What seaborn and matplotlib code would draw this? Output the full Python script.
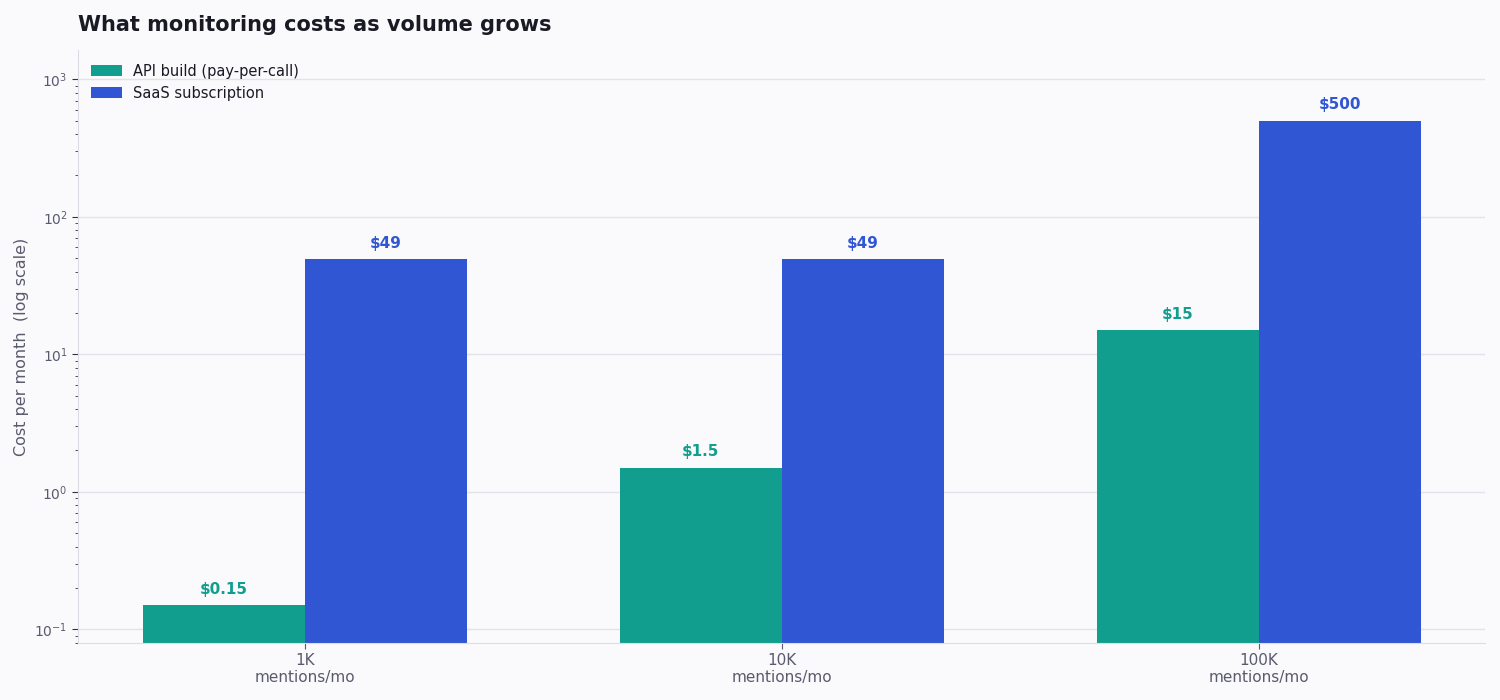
import pandas as pd
import seaborn as sns
import matplotlib.pyplot as plt

# Datos
volumes = ['1K\nmentions/mo', '10K\nmentions/mo', '100K\nmentions/mo']
api_cost = [0.15, 1.5, 15]
saas_cost = [49, 49, 500]
series = ['API build (pay-per-call)', 'SaaS subscription']
colors = ['#119e8e', '#3056d3']

df = pd.DataFrame({
    'volume': volumes * 2,
    'cost': api_cost + saas_cost,
    'plan': [series[0]] * 3 + [series[1]] * 3,
})

sns.set_style('white')
plt.rcParams['font.family'] = ['DejaVu Sans']

fig, ax = plt.subplots(figsize=(15, 7), dpi=100)
bg = '#fafafc'
fig.patch.set_facecolor(bg)
ax.set_facecolor(bg)

sns.barplot(data=df, x='volume', y='cost', hue='plan', palette=colors,
            width=0.68, saturation=1, linewidth=0, ax=ax)
ax.set_yscale('log')

ax.set_ylim(0.08, 1625)
ax.set_xlim(-0.476, 2.474)

# Etiquetas sobre las barras
for container, col in zip(ax.containers, colors):
    labels = ['$' + f'{v:g}' for v in container.datavalues]
    ax.bar_label(container, labels=labels, padding=6, color=col,
                 fontsize=11, fontweight='bold')

ax.yaxis.grid(True, which='major', color='#e2e2ea', linewidth=1)
ax.set_axisbelow(True)
for s in ['top', 'right']:
    ax.spines[s].set_visible(False)
for s in ['left', 'bottom']:
    ax.spines[s].set_color('#dcdce4')

ax.tick_params(axis='y', which='both', left=True, colors='#5a5a6e', labelsize=10)
ax.tick_params(axis='y', which='minor', length=2, color='#333340')
ax.tick_params(axis='y', which='major', length=4, color='#333340')
ax.tick_params(axis='x', bottom=True, length=4, colors='#5a5a6e', labelsize=11)

ax.set_xlabel('')
ax.set_ylabel('Cost per month  (log scale)', fontsize=11.5, color='#5a5a6e')
ax.set_title('What monitoring costs as volume grows', loc='left',
             fontsize=15, fontweight='bold', color='#1a1a24', pad=14)

leg = ax.legend(loc='upper left', frameon=False, fontsize=10.5,
                handlelength=2.1, handleheight=0.8)
for t in leg.get_texts():
    t.set_color('#1a1a24')

plt.subplots_adjust(left=0.052, right=0.99, top=0.928, bottom=0.082)
plt.savefig('out.png', facecolor=bg)
